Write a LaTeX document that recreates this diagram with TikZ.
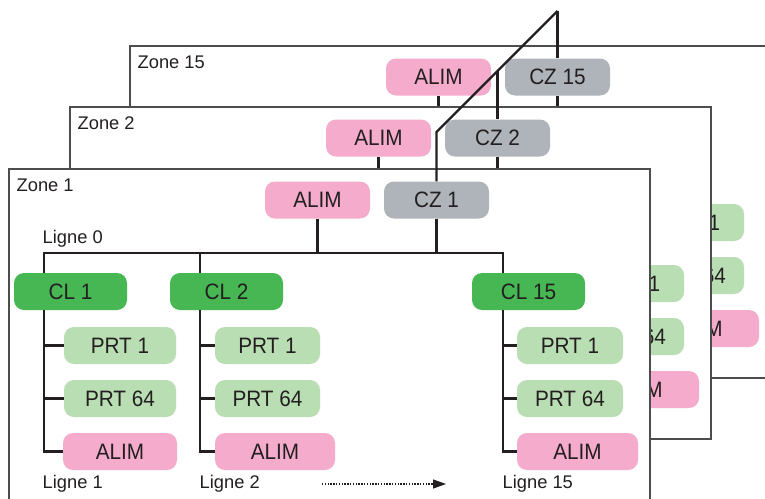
\documentclass[tikz,border=0pt]{standalone}
\usepackage{fontspec}
\setmainfont{Liberation Sans}
\newfontfamily\boxfont[FakeStretch=0.93]{Liberation Sans}
\usetikzlibrary{arrows.meta,calc}
\definecolor{pinkbox}{HTML}{F5ABCC}
\definecolor{graybox}{HTML}{AEB4B9}
\definecolor{darkgreen}{HTML}{47B753}
\definecolor{lightgreen}{HTML}{B9DEB3}
\definecolor{txt}{HTML}{231F20}
\definecolor{framecol}{HTML}{4D4D4D}
\tikzset{
  box/.style={rounded corners=10pt, minimum height=37pt, inner sep=0pt, text=txt,
    font=\boxfont\fontsize{22.3}{24}\selectfont},
  alimbox/.style={box, fill=pinkbox},
  czbox/.style={box, fill=graybox, minimum width=105pt},
  clbox/.style={box, fill=darkgreen, minimum width=113pt},
  prtbox/.style={box, fill=lightgreen},
  conn/.style={line width=2.4pt, draw=txt},
  lbl/.style={anchor=base west, inner sep=0pt, text=txt, font=\fontsize{18.3}{20}\selectfont},
  zoneframe/.style={draw=framecol, line width=1.1pt, fill=white},
  dotarrow/.style={line width=1.3pt, draw=txt, dash pattern=on 1.3pt off 1.5pt,
    -{Triangle[length=13pt,width=9pt]}},
}
% head of a zone: frame, title, ALIM, CZ, stubs, and the Ligne 15 boxes
\newcommand{\zonehead}[5]{%
  \begin{scope}[shift={(#1,#2)}]
    \path[zoneframe] (9,169) rectangle (650,501);
    \node[lbl] (#3title) at (16.5,191) {#4};
    \node[alimbox, minimum width=105pt] (#3alim) at (317.5,200) {ALIM};
    \node[czbox] (#3cz) at (436.5,200) {#5};
    \coordinate (#3b1) at (44,253);
    \draw[conn] (#3alim.south) -- (#3alim.south |- #3b1);
    \draw[conn] (#3cz.south) -- (#3cz.south |- #3b1);
    \node[prtbox, minimum width=106pt] (#3pc1) at (570,345.5) {PRT 1};
    \node[prtbox, minimum width=106pt] (#3pc64) at (570,398.5) {PRT 64};
    \node[alimbox, minimum width=121pt] (#3ac) at (577.5,451.5) {ALIM};
  \end{scope}}
\begin{document}
\begin{tikzpicture}[x=1pt, y=-1pt]
\useasboundingbox (0,0) rectangle (765,498);
\clip (0,0) rectangle (765,498);
\fill[white] (0,0) rectangle (765,498);
% back zones
\zonehead{121}{-123}{zc}{Zone 15}{CZ 15}
\zonehead{61}{-62}{zb}{Zone 2}{CZ 2}
% front zone
\zonehead{0}{0}{za}{Zone 1}{CZ 1}
\node[lbl] (zal0) at (42.5,243) {Ligne 0};
\coordinate (zab2) at (200,253);
\coordinate (zab15) at (503,253);
\node[clbox] (zacla) at (70.5,291.5) {CL 1};
\node[clbox] (zaclb) at (226.5,291.5) {CL 2};
\node[clbox] (zaclc) at (528.5,291.5) {CL 15};
% Ligne 1
\node[prtbox, minimum width=112pt] (zapa1) at (120,345.5) {PRT 1};
\node[prtbox, minimum width=112pt] (zapa64) at (120,398.5) {PRT 64};
\node[alimbox, minimum width=114pt] (zaaa) at (120,451.5) {ALIM};
% Ligne 2
\node[prtbox, minimum width=105pt] (zapb1) at (267.5,345.5) {PRT 1};
\node[prtbox, minimum width=105pt] (zapb64) at (267.5,398.5) {PRT 64};
\node[alimbox, minimum width=120pt] (zaab) at (275,451.5) {ALIM};
% labels
\node[lbl] (zal1) at (42.5,488) {Ligne 1};
\node[lbl] (zal2) at (199.5,488) {Ligne 2};
\node[lbl] (zal15) at (502.5,488) {Ligne 15};
\coordinate (arrS) at (322,484);
\coordinate (arrE) at (446,484);
\draw[dotarrow] (arrS) -- (arrE);
% bus
\draw[conn] (zab1 |- zacla.north) -- (zab1) -- (zab15) -- (zab15 |- zaclc.north);
\draw[conn] (zab2) -- (zab2 |- zaclb.north);
% trunks
\draw[conn] (zab1 |- zacla.south) |- (zaaa.west);
\draw[conn] (zab1 |- zapa1.west) -- (zapa1.west);
\draw[conn] (zab1 |- zapa64.west) -- (zapa64.west);
\draw[conn] (zab2 |- zaclb.south) |- (zaab.west);
\draw[conn] (zab2 |- zapb1.west) -- (zapb1.west);
\draw[conn] (zab2 |- zapb64.west) -- (zapb64.west);
\draw[conn] (zab15 |- zaclc.south) |- (zaac.west);
\draw[conn] (zab15 |- zapc1.west) -- (zapc1.west);
\draw[conn] (zab15 |- zapc64.west) -- (zapc64.west);
% top connector
\coordinate (top) at (557.5,11);
\coordinate (bend) at (436.5,132);
\coordinate (branch) at (497.5,71);
\draw[conn] (top) -- (top |- zccz.north);
\draw[conn] (top) -- (bend) -- (bend |- zacz.north);
\draw[conn] (branch) -- (branch |- zbcz.north);
\end{tikzpicture}
\end{document}
